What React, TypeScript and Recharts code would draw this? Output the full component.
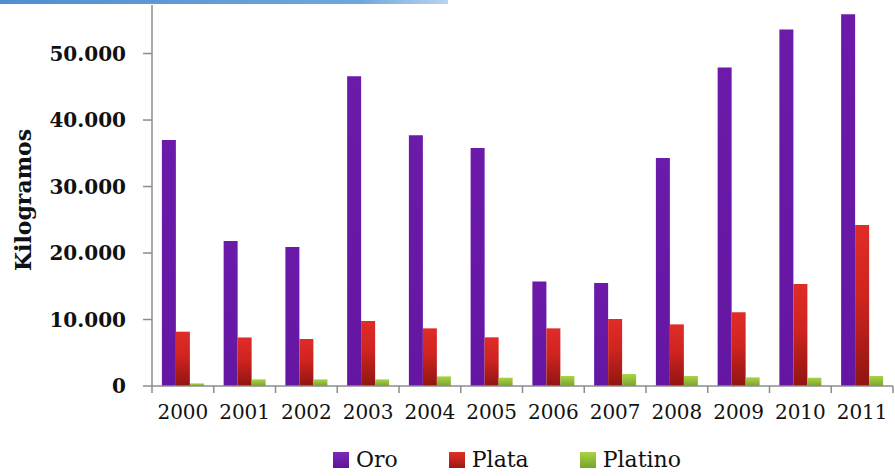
import { BarChart, Bar, XAxis, YAxis, Legend } from "recharts";

const years = ["2000", "2001", "2002", "2003", "2004", "2005", "2006", "2007", "2008", "2009", "2010", "2011"];
const oro = [37000, 21800, 20900, 46600, 37700, 35800, 15700, 15500, 34300, 47900, 53600, 55900];
const plata = [8170, 7300, 7070, 9770, 8670, 7320, 8670, 10070, 9270, 11080, 15340, 24200];
const platino = [400, 1000, 1000, 1000, 1450, 1250, 1500, 1800, 1500, 1300, 1250, 1500];
const yTicks = [0, 10000, 20000, 30000, 40000, 50000];

const data = years.map((year, i) => ({ year, oro: oro[i], plata: plata[i], platino: platino[i] }));

const FONT = "'DejaVu Serif', 'Liberation Serif', serif";
const AXIS = "#8c8c8c";

const fmt = (v: number) => String(v).replace(/\B(?=(\d{3})+(?!\d))/g, ".");

const legendItems = [
  { name: "Oro", bg: "linear-gradient(#7a2ab8, #5e1499)" },
  { name: "Plata", bg: "linear-gradient(#e2302a, #9c1812)" },
  { name: "Platino", bg: "linear-gradient(#a8d443, #78a22c)" },
];

function LegendBox() {
  return (
    <div style={{ display: "flex", alignItems: "center", paddingLeft: 333, paddingTop: 21 }}>
      {legendItems.map((it) => (
        <div key={it.name} style={{ display: "flex", alignItems: "center", marginRight: 51 }}>
          <span style={{ width: 16, height: 16, background: it.bg, display: "inline-block", marginRight: 7 }} />
          <span style={{ fontFamily: "DejaVu Serif", fontSize: 22, color: "#111" }}>{it.name}</span>
        </div>
      ))}
    </div>
  );
}

function YLabel() {
  return (
    <text
      x={23}
      y={200}
      transform="rotate(-90, 23, 200)"
      textAnchor="middle"
      dominantBaseline="central"
      fontFamily={FONT}
      fontWeight="bold"
      fontSize={22}
      fill="#111"
    >
      Kilogramos
    </text>
  );
}

// year label plus the small marks at the category boundaries
function YearTick(props: any) {
  const { x, y, payload, index } = props;
  const half = payload.offset || 0;
  const last = index === years.length - 1;
  return (
    <g>
      <line x1={x - half} x2={x - half} y1={y} y2={y + 7} stroke={AXIS} strokeWidth={1.5} />
      {last && <line x1={x + half} x2={x + half} y1={y} y2={y + 7} stroke={AXIS} strokeWidth={1.5} />}
      <text x={x} y={y + 19} dy="0.71em" textAnchor="middle" fontFamily={FONT} fontSize={20} fill="#111">
        {payload.value}
      </text>
    </g>
  );
}

export default function App() {
  return (
    <div style={{ position: "absolute", left: 0, top: 0, width: 895, height: 476, background: "#fff" }}>
      <div
        style={{
          position: "absolute",
          left: 0,
          top: 0,
          width: 448,
          height: 4,
          background: "linear-gradient(90deg, #4f8fd0 0%, #6fa6dc 80%, #b8d3ef 100%)",
        }}
      />
      <BarChart
        width={895}
        height={476}
        data={data}
        margin={{ top: 5, right: 2, bottom: 0, left: 0 }}
        barCategoryGap="16%"
        barGap={0}
      >
        <defs>
          <linearGradient id="gOro" x1="0" y1="0" x2="0" y2="1">
            <stop offset="0%" stopColor="#6c1aa9" />
            <stop offset="100%" stopColor="#6416a2" />
          </linearGradient>
          <linearGradient id="gPlata" x1="0" y1="0" x2="0" y2="1">
            <stop offset="0%" stopColor="#e02c27" />
            <stop offset="45%" stopColor="#cf2420" />
            <stop offset="100%" stopColor="#8f1511" />
          </linearGradient>
          <linearGradient id="gPlatino" x1="0" y1="0" x2="0" y2="1">
            <stop offset="0%" stopColor="#a9d444" />
            <stop offset="100%" stopColor="#7aa42e" />
          </linearGradient>
        </defs>
        <XAxis
          dataKey="year"
          height={40}
          stroke={AXIS}
          strokeWidth={1.5}
          tickLine={false}
          tickSize={0}
          tickMargin={0}
          interval={0}
          tick={<YearTick />}
        />
        <YAxis
          width={152}
          domain={[0, 57300]}
          ticks={yTicks}
          allowDataOverflow
          stroke={AXIS}
          strokeWidth={1.5}
          tickSize={9}
          tickMargin={17}
          tickFormatter={fmt}
          tick={{ fontFamily: FONT, fontSize: 20, fontWeight: "bold", fill: "#111" }}
          label={<YLabel />}
        />
        <Legend
          verticalAlign="bottom"
          height={50}
          wrapperStyle={{ left: 0, width: 895 }}
          content={() => <LegendBox />}
        />
        <Bar dataKey="oro" name="Oro" fill="url(#gOro)" isAnimationActive={false} />
        <Bar dataKey="plata" name="Plata" fill="url(#gPlata)" isAnimationActive={false} />
        <Bar dataKey="platino" name="Platino" fill="url(#gPlatino)" isAnimationActive={false} />
      </BarChart>
    </div>
  );
}
